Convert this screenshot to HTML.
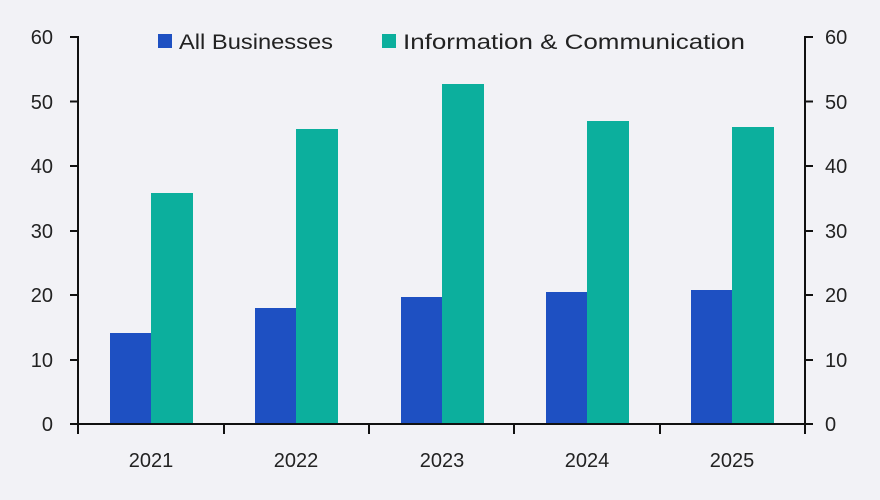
<!DOCTYPE html>
<html><head><meta charset="utf-8"><style>
html,body{margin:0;padding:0;background:#f2f2f6;}
svg{display:block;font-family:"Liberation Sans",sans-serif;}
</style></head><body>
<svg width="880" height="500" viewBox="0 0 880 500">
<rect width="880" height="500" fill="#f2f2f6"/>
<g font-size="20" fill="#222">
<g text-anchor="end">
<text x="53" y="44">60</text><text x="53" y="109">50</text><text x="53" y="173">40</text><text x="53" y="238">30</text><text x="53" y="302">20</text><text x="53" y="367">10</text><text x="53" y="431">0</text>
</g>
<g text-anchor="start">
<text x="825" y="44">60</text><text x="825" y="109">50</text><text x="825" y="173">40</text><text x="825" y="238">30</text><text x="825" y="302">20</text><text x="825" y="367">10</text><text x="825" y="431">0</text>
</g>
<g text-anchor="middle">
<text x="151" y="467">2021</text><text x="296" y="467">2022</text><text x="442" y="467">2023</text><text x="587" y="467">2024</text><text x="732" y="467">2025</text>
</g>
</g>
<g fill="#1e50c2">
<rect x="110" y="333" width="41" height="91"/>
<rect x="255" y="308" width="41" height="116"/>
<rect x="401" y="297" width="41" height="127"/>
<rect x="546" y="292" width="41" height="132"/>
<rect x="691" y="290" width="41" height="134"/>
</g>
<g fill="#0caf9d">
<rect x="151" y="193" width="42" height="231"/>
<rect x="296" y="129" width="42" height="295"/>
<rect x="442" y="84" width="42" height="340"/>
<rect x="587" y="121" width="42" height="303"/>
<rect x="732" y="127" width="42" height="297"/>
</g>
<g stroke="#111" stroke-width="2" fill="none">
<path d="M78 36V424M805 36V424M70 424H813"/>
<path d="M70 37H78M70 101.5H78M70 166H78M70 231H78M70 295H78M70 360H78"/>
<path d="M805 37H813M805 101.5H813M805 166H813M805 231H813M805 295H813M805 360H813"/>
<path d="M78 424V434M224 424V434M369 424V434M514 424V434M660 424V434M805 424V434"/>
</g>
<rect x="158" y="34" width="14" height="14" fill="#1e50c2"/>
<text x="179" y="49" font-size="21" fill="#222" textLength="154" lengthAdjust="spacingAndGlyphs">All Businesses</text>
<rect x="382" y="34" width="14" height="14" fill="#0caf9d"/>
<text x="403" y="49" font-size="21" fill="#222" textLength="342" lengthAdjust="spacingAndGlyphs">Information &amp; Communication</text>
</svg>
</body></html>
